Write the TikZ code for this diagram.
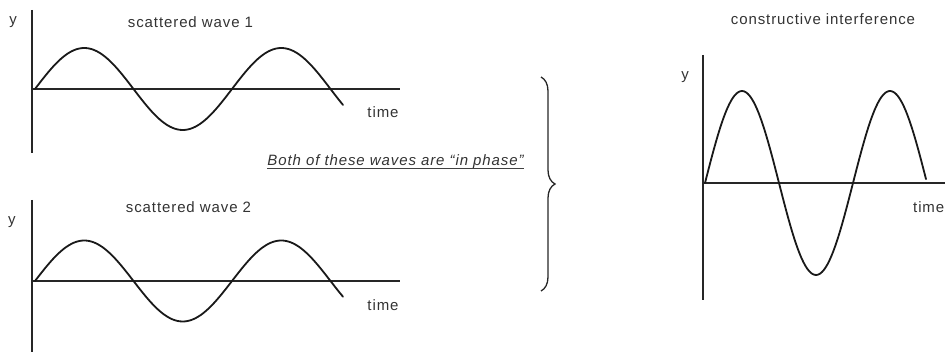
\documentclass[tikz,border=0pt]{standalone}
\usepackage{fontspec}
\setmainfont{Liberation Sans}[LetterSpace=6]
\usetikzlibrary{decorations.pathreplacing}
\begin{document}
\begin{tikzpicture}[x=1pt,y=-1pt,
  axis/.style={line width=1.4pt,black!85},
  wave/.style={line width=1.8pt,black!90,line join=round,line cap=round},
  lbl/.style={anchor=base,inner sep=0pt,text=black!80,font=\fontsize{15}{17}\selectfont},
  brace/.style={decorate,decoration={brace,amplitude=14pt},line width=1.3pt,black!85}]
\useasboundingbox (0,0) rectangle (945,352);
% --- graph 1
\coordinate (y1top) at (32,10);
\coordinate (y1bot) at (32,153);
\coordinate (x1l) at (32,89);
\coordinate (x1r) at (400,89);
\draw[axis] (y1top) -- (y1bot);
\draw[axis] (x1l) -- (x1r);
\draw[wave] plot[domain=35:343,samples=120,variable=\t] ({\t},{89-41*sin((\t-35)/197*360)});
\node[lbl] (ylab1) at (13,25) {y};
\node[lbl] (title1) at (190.5,28) {scattered wave 1};
\node[lbl] (time1) at (383,118) {time};
% --- graph 2
\coordinate (y2top) at (32,200);
\coordinate (y2bot) at (32,352);
\coordinate (x2l) at (32,281);
\coordinate (x2r) at (400,281);
\draw[axis] (y2top) -- (y2bot);
\draw[axis] (x2l) -- (x2r);
\draw[wave] plot[domain=35:343,samples=120,variable=\t] ({\t},{281-40.5*sin((\t-35)/197*360)});
\node[lbl] (ylab2) at (12,225) {y};
\node[lbl] (title2) at (188.5,213) {scattered wave 2};
\node[lbl] (time2) at (383,311) {time};
% --- phrase and brace
\node[lbl,font=\fontsize{15}{17}\selectfont\itshape] (phrase) at (395.5,166) {Both of these waves are ``in phase''};
\draw[line width=0.9pt,black!75] ([yshift=-2.5pt]phrase.base west) -- ([yshift=-2.5pt]phrase.base east);
\coordinate (btop) at (541,77);
\coordinate (bbot) at (541,291);
\draw[brace] (btop) -- (bbot);
% --- graph 3
\coordinate (y3top) at (703,55);
\coordinate (y3bot) at (703,300);
\coordinate (x3l) at (703,183);
\coordinate (x3r) at (945,183);
\draw[axis] (y3top) -- (y3bot);
\draw[axis] (x3l) -- (x3r);
\draw[wave] plot[domain=705:926,samples=120,variable=\t] ({\t},{183-92*sin((\t-705)/148*360)});
\node[lbl] (ylab3) at (685,80) {y};
\node[lbl] (title3) at (823,25) {constructive interference};
\node[lbl,anchor=base west] (time3) at (913,213) {time};
\end{tikzpicture}
\end{document}
